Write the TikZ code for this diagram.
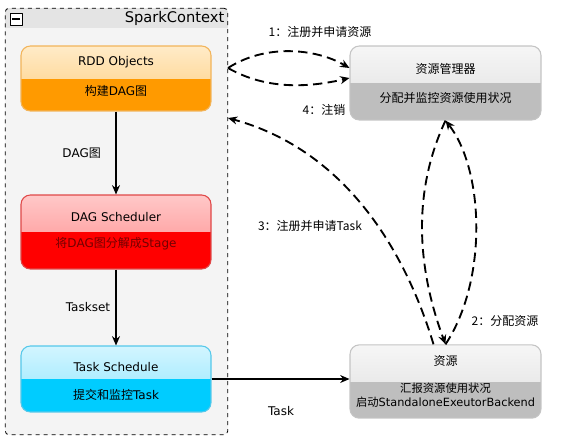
\documentclass[tikz,border=0pt]{standalone}
\usepackage{fontspec}
\setmainfont{DejaVu Sans}
\newfontfamily\zh{Noto Sans CJK SC}
\usetikzlibrary{calc,arrows.meta}

\definecolor{ctxfill}{HTML}{F4F4F4}
\definecolor{ctxhead}{HTML}{E4E4E4}
\definecolor{rddtopc}{HTML}{FFEBC8}
\definecolor{rddmidc}{HTML}{FFCC7A}
\definecolor{rddlowc}{HTML}{FF9A00}
\definecolor{rddline}{HTML}{F2B45A}
\definecolor{dagtopc}{HTML}{FFC8C8}
\definecolor{dagmidc}{HTML}{FF8A8A}
\definecolor{daglowc}{HTML}{FF0000}
\definecolor{dagline}{HTML}{E04848}
\definecolor{tsktopc}{HTML}{D2F5FF}
\definecolor{tskmidc}{HTML}{8EE6FF}
\definecolor{tsklowc}{HTML}{00CCFF}
\definecolor{tskline}{HTML}{55C8EA}
\definecolor{restopc}{HTML}{F6F6F6}
\definecolor{resmidc}{HTML}{DEDEDE}
\definecolor{reslowc}{HTML}{BEBEBE}
\definecolor{resline}{HTML}{C4C4C4}

\tikzset{
  txt/.style={font=\fontsize{9}{11}\selectfont, inner sep=1pt},
  stagebox/.style n args={4}{draw=#4, line width=0.8pt, rounded corners=7pt,
    minimum width=142.5pt,
    path picture={
      \shade[sharp corners, top color=#1, bottom color=#2] (path picture bounding box.north west) rectangle (path picture bounding box.east);
      \fill[sharp corners, #3] (path picture bounding box.west) rectangle (path picture bounding box.south east);
    }},
  container/.style={draw, dashed, line width=0.6pt, fill=ctxfill, rounded corners=3pt,
    path picture={
      \fill[sharp corners, ctxhead] (path picture bounding box.north west) rectangle ([yshift=-15pt]path picture bounding box.north east);
    }},
  dasharrow/.style={->, line width=1.4pt, dash pattern=on 7pt off 4pt},
}

\begin{document}
\begin{tikzpicture}[x=0.75pt, y=-0.75pt, >={Stealth[length=7pt,width=6pt]}, line join=round]
  \useasboundingbox (0,0) rectangle (580,444);

  % SparkContext
  \node[container, minimum width=167pt, minimum height=320pt] (spark) at (116.5,221.5) {};
  \node[draw, fill=white, minimum size=9pt, inner sep=0pt, line width=0.6pt] (fold) at (16,19) {};
  \draw[line width=0.8pt] ($(fold.west)+(2.5,0)$) -- ($(fold.east)+(-2.5,0)$);
  \node[anchor=east, font=\fontsize{11}{13}\selectfont, inner sep=1pt] (sctitle) at (226,18) {SparkContext};

  % Stages
  \node[stagebox={rddtopc}{rddmidc}{rddlowc}{rddline}, minimum height=48.75pt] (rdd) at (116,78.5) {};
  \node[txt] (rddtop) at ($(rdd.north)!0.52!(rdd.center)$) {RDD Objects};
  \node[txt] (rddbot) at ($(rdd.south)!0.62!(rdd.center)$) {{\zh 构建}DAG{\zh 图}};

  \node[stagebox={dagtopc}{dagmidc}{daglowc}{dagline}, minimum height=55.5pt] (dag) at (116,232) {};
  \node[txt] (dagtop) at ($(dag.north)!0.6!(dag.center)$) {DAG Scheduler};
  \node[txt, text=red!45!black] (dagbot) at ($(dag.south)!0.7!(dag.center)$) {{\zh 将}DAG{\zh 图分解成}Stage};

  \node[stagebox={tsktopc}{tskmidc}{tsklowc}{tskline}, minimum height=49.5pt] (task) at (116,379) {};
  \node[txt] (tasktop) at ($(task.north)!0.64!(task.center)$) {Task Schedule};
  \node[txt] (taskbot) at ($(task.south)!0.52!(task.center)$) {{\zh 提交和监控}Task};

  % Resources
  \node[stagebox={restopc}{resmidc}{reslowc}{resline}, minimum width=143.25pt, minimum height=55.5pt] (rm) at (445.5,83) {};
  \node[txt] (rmtop) at ($(rm.north)!0.62!(rm.center)$) {\zh 资源管理器};
  \node[txt] (rmbot) at ($(rm.south)!0.6!(rm.center)$) {\zh 分配并监控资源使用状况};

  \node[stagebox={restopc}{resmidc}{reslowc}{resline}, minimum width=143.25pt, minimum height=55pt] (res) at (445.5,381.5) {};
  \node[txt] (restop) at ($(res.north)!0.44!(res.center)$) {\zh 资源};
  \node[txt, font=\fontsize{8.5}{10.5}\selectfont, align=center] (resbot) at ($(res.south)!0.63!(res.center)$) {{\zh 汇报资源使用状况}\\{\zh 启动}StandaloneExeutorBackend};

  % Solid arrows
  \draw[->, line width=0.8pt] (rdd) -- (dag) node[txt, midway, left=10pt] (lbldag) {DAG{\zh 图}};
  \draw[->, line width=0.8pt] (dag) -- (task) node[txt, midway, left=3pt] (lblset) {Taskset};
  \draw[->, line width=0.8pt] (task.east) -- (task.east -| res.west);
  \node[txt] (lbltask) at (281,411) {Task};

  % Dashed arrows
  \coordinate (c1) at (228,68);
  \draw[dasharrow] (c1) .. controls (265,44) and (315,48) .. ($(rm.west)+(0,-15)$);
  \draw[dasharrow] (c1) .. controls (270,92) and (315,86) .. ($(rm.west)+(0,-5)$);
  \coordinate (c3) at (228,118);
  \draw[dasharrow] ($(res.north)+(-12,0)$) .. controls (405,250) and (345,150) .. (c3);
  \draw[dasharrow] (rm.south) .. controls (413,190) and (416,265) .. (res.north);
  \draw[dasharrow] (res.north) .. controls (488,280) and (484,170) .. (rm.south);

  % Labels
  \node[txt] (lbl1) at (320,32) {\zh 1：注册并申请资源};
  \node[txt] (lbl4) at (324,110) {\zh 4：注销};
  \node[txt] (lbl3) at (310,226) {\zh 3：注册并申请Task};
  \node[txt] (lbl2) at (505,321) {\zh 2：分配资源};
\end{tikzpicture}
\end{document}
